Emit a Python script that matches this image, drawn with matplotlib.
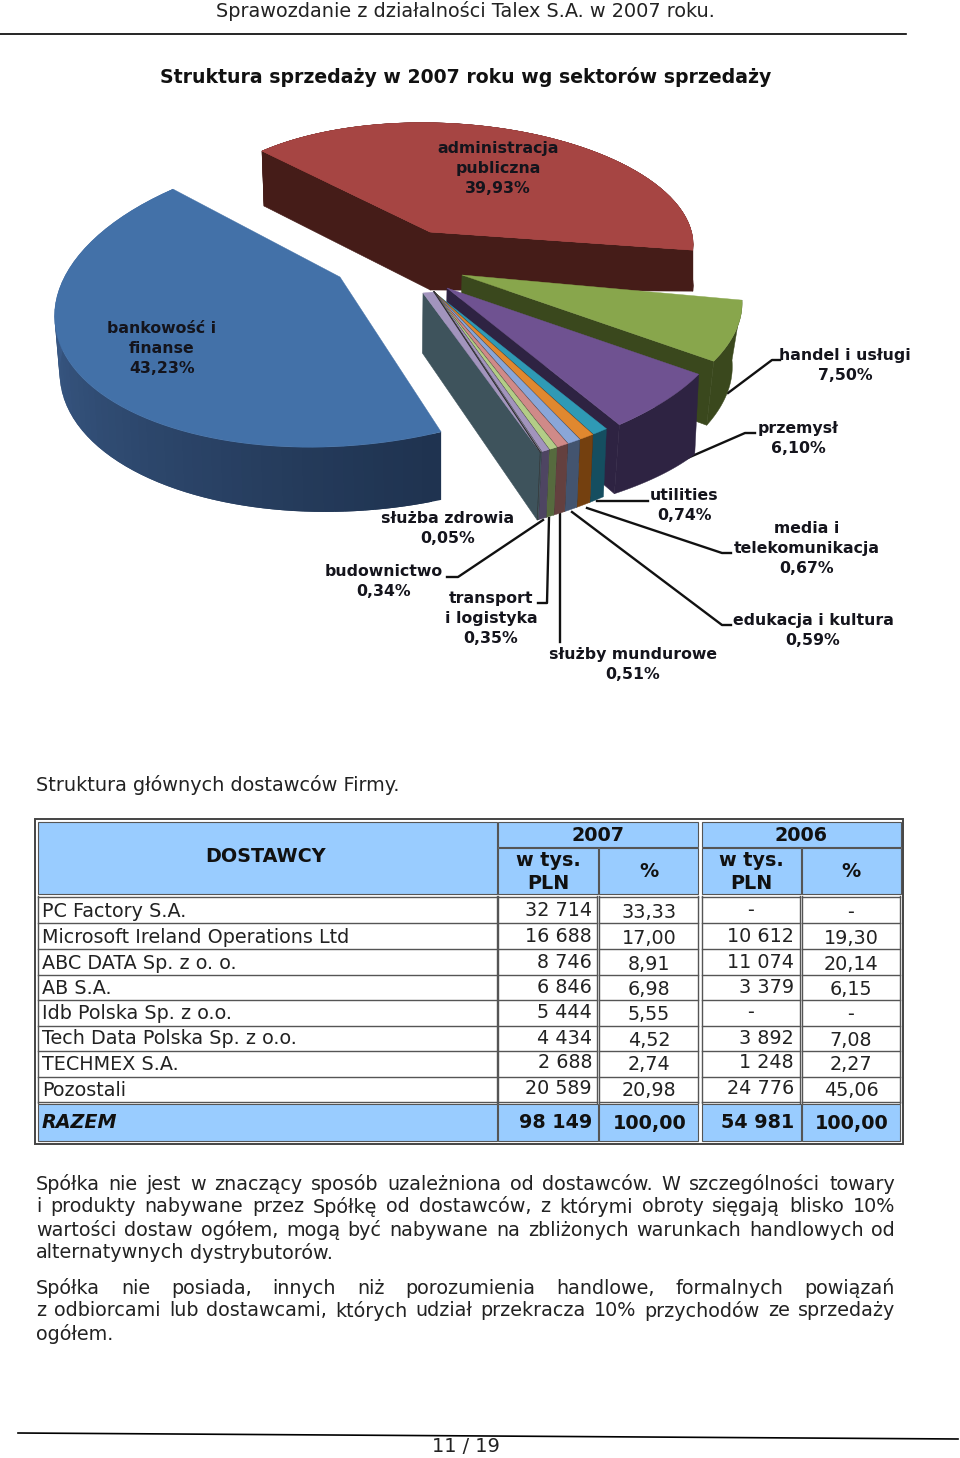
import numpy as np
import matplotlib
matplotlib.use('Agg')
import matplotlib.pyplot as plt
from matplotlib.patches import Polygon, Rectangle

plt.rcParams['font.family'] = ['DejaVu Sans']

# dane wykresu
sectors = ['administracja\npubliczna', 'handel i usługi', 'przemysł', 'utilities',
           'media i\ntelekomunikacja', 'edukacja i kultura', 'służby mundurowe',
           'transport\ni logistyka', 'budownictwo', 'służba zdrowia', 'bankowość i\nfinanse']
shares = [39.93, 7.50, 6.10, 0.74, 0.67, 0.59, 0.51, 0.35, 0.34, 0.05, 43.23]
top_colors = ['#a64543', '#88a64c', '#6f5291', '#2f9ab5', '#e0882f', '#8aa6d8',
              '#d08a88', '#b3cd87', '#a294bd', '#8d8da0', '#4371a8']
side_colors = ['#451c18', '#3a481d', '#2e2342', '#154e60', '#74400f', '#43546f',
               '#64403f', '#566a3e', '#4e4562', '#3e535c', '#2c4a73']
apexes = [(430, 232), (462, 275), (447, 288), (434, 292), (434, 292), (434, 292),
          (434, 292), (434, 292), (434, 292), (434, 292), (340, 277)]
label_pos = [(498, 148), (845, 355), (798, 428), (684, 495), (807, 528), (813, 620),
             (633, 654), (491, 598), (384, 571), (448, 518), (162, 328)]

# tabela dostawców
suppliers = ['PC Factory S.A.', 'Microsoft Ireland Operations Ltd', 'ABC DATA Sp. z o. o.', 'AB S.A.',
             'Idb Polska Sp. z o.o.', 'Tech Data Polska Sp. z o.o.', 'TECHMEX S.A.', 'Pozostali']
val_2007 = ['32 714', '16 688', '8 746', '6 846', '5 444', '4 434', '2 688', '20 589']
pct_2007 = ['33,33', '17,00', '8,91', '6,98', '5,55', '4,52', '2,74', '20,98']
val_2006 = ['-', '10 612', '11 074', '3 379', '-', '3 892', '1 248', '24 776']
pct_2006 = ['-', '19,30', '20,14', '6,15', '-', '7,08', '2,27', '45,06']
total = ['98 149', '100,00', '54 981', '100,00']

para1 = ['Spółka nie jest w znaczący sposób uzależniona od dostawców. W szczególności towary',
         'i produkty nabywane przez Spółkę od dostawców, z którymi obroty sięgają blisko 10%',
         'wartości dostaw ogółem, mogą być nabywane na zbliżonych warunkach handlowych od',
         'alternatywnych dystrybutorów.']
para2 = ['Spółka nie posiada, innych niż porozumienia handlowe, formalnych powiązań',
         'z odbiorcami lub dostawcami, których udział przekracza 10% przychodów ze sprzedaży',
         'ogółem.']

fig = plt.figure(figsize=(9.6, 14.58), dpi=100)
ax = fig.add_axes([0, 0, 1, 1])
ax.set_xlim(0, 960)
ax.set_ylim(1458, 0)
ax.axis('off')

# kąty wycinków z udziałów
edges = np.radians(np.concatenate([[0], np.cumsum(shares)]) * 360 / sum(shares))


# rzut perspektywiczny koła na obraz (dopasowanie DLT), końce łuku z większą wagą
def fit_h(theta_deg, img, centre=False):
    src = [(np.cos(np.radians(t)), np.sin(np.radians(t))) for t in theta_deg]
    dst = list(img)
    last = len(theta_deg) - 1
    if centre:
        src.append((0, 0))
        dst.append((0, 0))
    A = []
    for n, ((u, v), (x, y)) in enumerate(zip(src, dst)):
        w = 4.0 if n in (0, last) else 1.0
        A.append([w * c for c in [u, v, 1, 0, 0, 0, -x * u, -x * v, -x]])
        A.append([w * c for c in [0, 0, 0, u, v, 1, -y * u, -y * v, -y]])
    return np.linalg.svd(np.array(A))[2][-1].reshape(3, 3)


H_red = fit_h([0, 30, 55, 75, 95, 112, 130, 143.7],
              [(-168, -81), (-90, -102), (-10, -108), (70, -106), (150, -87), (210, -57), (250, -17), (263, 18)])
H_right = fit_h([143.7, 170.7, 192.7, 204.4], [(280, 25), (250, 88), (176, 136), (106, 160)], centre=True)
H_blue = fit_h([360, 335, 320, 285, 265, 232, 204.4],
               [(-167, -88), (-263, -20), (-280, 25), (-240, 116), (-167, 153), (-17, 168), (101, 155)])
homs = [H_red] + [H_right] * 9 + [H_blue]


def project(theta, H):
    p = H @ np.array([np.cos(theta), np.sin(theta), np.ones_like(theta)])
    return np.array([p[0] / p[2], p[1] / p[2]]).T


def mix(c1, c2, t):
    a = np.array(matplotlib.colors.to_rgb(c1))
    b = np.array(matplotlib.colors.to_rgb(c2))
    return a + (b - a) * t


# głębokość boku: wierzchołek, początek i koniec łuku
depths = [(58, 55, 41), (60, 60, 64), (60, 80, 69), (60, 68, 68), (60, 68, 68), (60, 68, 68),
          (60, 68, 68), (60, 68, 68), (60, 68, 68), (60, 68, 68), (60, 68, 50)]
leans = [(2, 0), (-10, -7), (-4, -5), (-3, -3), (-3, -3), (-3, -3), (-3, -3), (-3, -3), (-3, -3), (-3, -3), (0, 7)]


def draw_slice(i, radial=None, face_apex=None):
    th = np.linspace(edges[i], edges[i + 1], 70)
    apex = np.array(apexes[i], float)
    top = apex + project(th, homs[i])
    dep = np.linspace(depths[i][1], depths[i][2], len(th))
    lean = np.linspace(leans[i][0], leans[i][1], len(th))
    bottom = top + np.column_stack([lean, dep])
    if i == 10:
        for k in range(len(th) - 1):
            col = mix('#1f3350', '#44699c', (k / (len(th) - 2)) ** 1.2)
            k2 = min(k + 2, len(th) - 1)
            ax.add_patch(Polygon([top[k], top[k2], bottom[k2], bottom[k]], fc=col, ec='none', zorder=2 + i))
    else:
        ax.add_patch(Polygon(np.vstack([top, bottom[::-1]]), fc=side_colors[i], ec=side_colors[i], lw=0.3,
                             zorder=2 + i))
    if radial is not None:
        e = 0 if radial == 'start' else -1
        a0 = apex if face_apex is None else np.array(face_apex, float)
        ax.add_patch(Polygon([a0, top[e], bottom[e], a0 + (lean[e] * 0.2, depths[i][0])],
                             fc=side_colors[i], ec=side_colors[i], lw=0.4, zorder=2 + i))
    ax.add_patch(Polygon(np.vstack([apex, top]), fc=top_colors[i], ec=top_colors[i], lw=0.3, zorder=2.5 + i))
    if face_apex is not None:
        ax.add_patch(Polygon([a0, apex, top[-1]], fc=top_colors[8], ec=top_colors[8], lw=0.3, zorder=2.5 + i))
    if 3 <= i <= 9:
        ax.plot([apex[0], top[-1, 0]], [apex[1], top[-1, 1]], color='#2a2a2a', lw=0.8, zorder=2.6 + i)
        ax.plot([top[-1, 0], bottom[-1, 0]], [top[-1, 1], bottom[-1, 1]], color='#2a2a2a', lw=0.4, zorder=2.6 + i)


draw_slice(0, 'start')
draw_slice(0, 'end')
draw_slice(1, 'end')
draw_slice(2, 'end')
for i in range(3, 9):
    draw_slice(i)
draw_slice(9, 'end', face_apex=(423, 293))
draw_slice(10)

# etykiety wycinków
for name, val, (lx, ly) in zip(sectors, shares, label_pos):
    lines = name.split('\n') + [f'{val:.2f}'.replace('.', ',') + '%']
    for n, line in enumerate(lines):
        ax.text(lx, ly + n * 20.2, line, ha='center', va='center', fontsize=11.3, fontweight='bold',
                color='#14141c', zorder=40)

leaders = [[(728, 393), (772, 360), (780, 360)], [(660, 470), (745, 433), (755, 433)],
           [(597, 501), (648, 501)], [(587, 508), (722, 553), (731, 553)],
           [(572, 512), (722, 625), (731, 625)], [(560, 513), (560, 642)],
           [(549, 518), (547, 603), (538, 603)], [(543, 520), (458, 577), (447, 577)]]
for path in leaders:
    xs, ys = zip(*path)
    ax.plot(xs, ys, color='#111111', lw=1.7, zorder=1)

# nagłówek i tytuły
ax.text(465.5, 11, 'Sprawozdanie z działalności Talex S.A. w 2007 roku.', ha='center', va='center',
        fontsize=13.9, color='#222222')
ax.plot([0, 906], [33.5, 33.5], color='black', lw=1.2)
ax.text(465.5, 77, 'Struktura sprzedaży w 2007 roku wg sektorów sprzedaży', ha='center', va='center',
        fontsize=13.6, fontweight='bold', color='#111111')
ax.text(36, 785, 'Struktura głównych dostawców Firmy.', ha='left', va='center', fontsize=13.9, color='#222222')

# tabela
blue = '#99ccff'
grid = '#555555'
ax.add_patch(Rectangle((35, 819), 868, 325, fc='white', ec='#444444', lw=1.4))
ax.add_patch(Rectangle((38, 822), 459, 72, fc=blue, ec=grid, lw=0.8))
for x, w in [(498, 200), (702, 199)]:
    ax.add_patch(Rectangle((x, 822), w, 25, fc=blue, ec=grid, lw=0.8))
    ax.add_patch(Rectangle((x, 848), w / 2 - 0.5, 46, fc=blue, ec=grid, lw=0.8))
    ax.add_patch(Rectangle((x + w / 2 + 0.5, 848), w / 2 - 0.5, 46, fc=blue, ec=grid, lw=0.8))
ax.add_patch(Rectangle((38, 1104), 459, 37, fc=blue, ec=grid, lw=0.8))
for x, w in [(498, 100), (599, 99), (702, 99), (802, 98)]:
    ax.add_patch(Rectangle((x, 1104), w, 37, fc=blue, ec=grid, lw=0.8))

row_y = [911, 937, 963, 988, 1013, 1039, 1064, 1090]
row_line = [897, 923, 949, 975, 1000, 1026, 1051, 1077, 1102]
for y in row_line:
    for x0, x1 in [(38, 497), (498, 597), (599, 698), (702, 800), (802, 900)]:
        ax.plot([x0, x1], [y, y], color=grid, lw=1)
for x in [38, 497, 498, 597, 599, 698, 702, 800, 802, 900]:
    ax.plot([x, x], [896, 1103], color=grid, lw=1)

tfs = 13.8
for head, cx in [('2007', 598), ('2006', 801)]:
    ax.text(cx, 835, head, ha='center', va='center', fontsize=tfs, fontweight='bold', color='#111111')
for cx in [548, 751]:
    ax.text(cx, 860, 'w tys.', ha='center', va='center', fontsize=tfs, fontweight='bold', color='#111111')
    ax.text(cx, 883, 'PLN', ha='center', va='center', fontsize=tfs, fontweight='bold', color='#111111')
for cx in [649, 851]:
    ax.text(cx, 871, '%', ha='center', va='center', fontsize=tfs, fontweight='bold', color='#111111')
ax.text(266, 856, 'DOSTAWCY', ha='center', va='center', fontsize=tfs, fontweight='bold', color='#111111')

for n, y in enumerate(row_y):
    ax.text(42, y, suppliers[n], ha='left', va='center', fontsize=tfs, color='#222222')
    ax.text(592, y - 1, val_2007[n], ha='right', va='center', fontsize=tfs, color='#222222')
    ax.text(649, y + 1, pct_2007[n], ha='center', va='center', fontsize=tfs, color='#222222')
    if val_2006[n] == '-':
        ax.text(751, y - 1, '-', ha='center', va='center', fontsize=tfs, color='#222222')
    else:
        ax.text(794, y - 1, val_2006[n], ha='right', va='center', fontsize=tfs, color='#222222')
    ax.text(851, y + 1, pct_2006[n], ha='center', va='center', fontsize=tfs, color='#222222')

ax.text(42, 1122, 'RAZEM', ha='left', va='center', fontsize=tfs, fontweight='bold', style='italic', color='#111111')
ax.text(592, 1123, total[0], ha='right', va='center', fontsize=tfs, fontweight='bold', color='#111111')
ax.text(650, 1123, total[1], ha='center', va='center', fontsize=tfs, fontweight='bold', color='#111111')
ax.text(794, 1123, total[2], ha='right', va='center', fontsize=tfs, fontweight='bold', color='#111111')
ax.text(852, 1123, total[3], ha='center', va='center', fontsize=tfs, fontweight='bold', color='#111111')

# akapity wyjustowane
renderer = fig.canvas.get_renderer()


def justified(line, y, stretch=True, x0=36, x1=895):
    words = line.split(' ')
    items = [ax.text(0, y, w, ha='left', va='center', fontsize=tfs, color='#222222') for w in words]
    widths = [t.get_window_extent(renderer).width for t in items]
    space = 6.0
    if stretch:
        space = (x1 - x0 - sum(widths)) / (len(words) - 1)
    x = x0
    for t, w in zip(items, widths):
        t.set_x(x)
        x += w + space


for n, line in enumerate(para1):
    justified(line, 1184 + n * 23, stretch=n < 3)
for n, line in enumerate(para2):
    justified(line, 1288 + n * 23, stretch=n < 2)

# stopka
ax.plot([18, 958], [1433, 1439], color='black', lw=1.2)
ax.text(466, 1447, '11 / 19', ha='center', va='center', fontsize=13.9, color='#222222')

fig.savefig('out.png', dpi=100, facecolor='white')
